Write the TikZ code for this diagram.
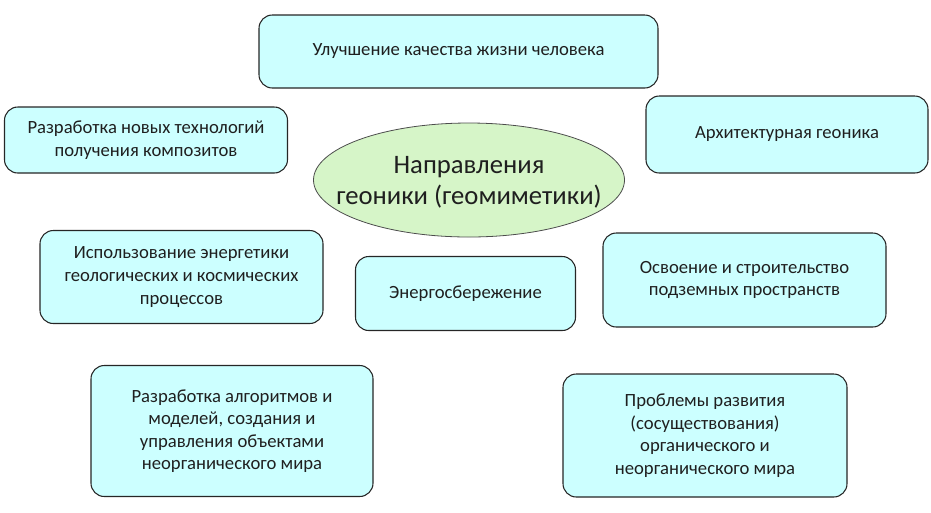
\documentclass[tikz,border=0pt]{standalone}
\usepackage{fontspec}
\setmainfont{Carlito}
\usetikzlibrary{shapes.geometric}
\definecolor{boxcyan}{RGB}{204,255,255}
\definecolor{hubgreen}{RGB}{214,245,200}
\begin{document}
\begin{tikzpicture}[x=0.75pt,y=-0.75pt,
    wh/.style 2 args={minimum width=#1*0.75pt,minimum height=#2*0.75pt},
    box/.style={draw=black!85,line width=0.8pt,fill=boxcyan,rounded corners=10pt,
      align=center,inner sep=0pt,text=black!88,font=\fontsize{14}{16.9}\selectfont},
    hub/.style={ellipse,draw=black!70,line width=0.6pt,fill=hubgreen,inner sep=0pt},
    hubtext/.style={align=center,inner sep=0pt,text=black!88,font=\fontsize{20}{23.2}\selectfont}]
        \useasboundingbox (0,0) rectangle (931,512);
        \node[hub,wh={311}{114}] at (469,180) (hub) {};
        \node[hubtext] at (469,182) (title) {Направления\\геоники (геомиметики)};
        \node[box,wh={399}{73}]  at (458.5,51.5) (life)   {Улучшение качества жизни человека};
        \node[box,wh={283}{66}]  at (146,140)    (comp)   {Разработка новых технологий\\получения композитов};
        \node[box,wh={282}{77}]  at (787,134.5)  (arch)   {Архитектурная геоника};
        \node[box,wh={283}{93}]  at (181.5,277)  (energy) {Использование энергетики\\геологических и космических\\процессов};
        \node[box,wh={220}{74}]  at (465.5,293.5) (saving) {Энергосбережение};
        \node[box,wh={283}{94}]  at (744.5,280)  (under)  {Освоение и строительство\\подземных пространств};
        \node[box,wh={282}{131}] at (232,431)    (algo)   {Разработка алгоритмов и\\моделей, создания и\\управления объектами\\неорганического мира};
        \node[box,wh={284}{123}] at (705,435.5)  (coexist) {Проблемы развития\\(сосуществования)\\органического и\\неорганического мира};
      \end{tikzpicture}
\end{document}
